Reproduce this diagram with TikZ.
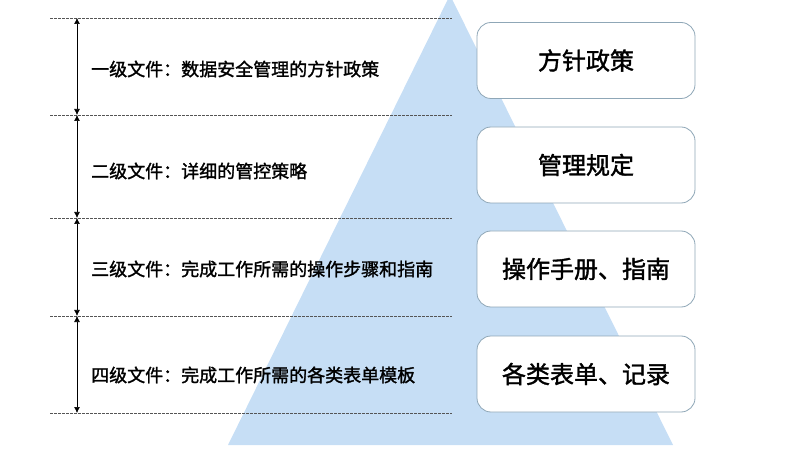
\documentclass[tikz,border=0pt]{standalone}
\usepackage{fontspec}
\newfontfamily\cjk[BoldFont={Noto Sans CJK SC},BoldFeatures={FakeBold=1.5}]{Noto Sans CJK SC}
\usetikzlibrary{arrows.meta}
\definecolor{pyramid}{HTML}{C6DEF5}
\definecolor{boxgray}{HTML}{8FA7B7}
\definecolor{dashgray}{HTML}{555555}
\begin{document}
\begin{tikzpicture}[x=1pt,y=-1pt,font=\cjk,
  level/.style={anchor=west,inner sep=0pt,font=\cjk\bfseries\fontsize{18}{20}\selectfont},
  docbox/.style={draw=boxgray,fill=white,rounded corners=14pt,line width=0.8pt,
    minimum width=218pt,minimum height=76pt,inner sep=0pt,font=\cjk\bfseries\fontsize{24}{28}\selectfont},
  span/.style={{Latex[length=6pt,width=6pt]}-{Latex[length=6pt,width=6pt]},line width=0.7pt}]
  \useasboundingbox (0,0) rectangle (795,470);
  \fill[pyramid] (228,445) -- (450,-5) -- (673,445) -- cycle;
  \foreach [count=\Z from 0] \Y in {18,115,218,316,413}
  {\draw[dashgray,line width=0.5pt,dash pattern=on 2.5pt off 1.5pt] (50,\Y) coordinate (L\Z)
    -- (452,\Y) coordinate (R\Z);
   \coordinate (A\Z) at (77,\Y);}
  \foreach \A/\B in {0/1,1/2,2/3,3/4}
  {\draw[span] (A\A) -- (A\B);}
  \foreach [count=\Z] \Y/\T in {69/{一级文件：数据安全管理的方针政策},171/{二级文件：详细的管控策略},
    269/{三级文件：完成工作所需的操作步骤和指南},375/{四级文件：完成工作所需的各类表单模板}}
  {\node[level] (t\Z) at (91,\Y) {\T};}
  \foreach [count=\Z] \Y/\T in {60.5/{方针政策},165/{管理规定},269/{操作手册、指南},374/{各类表单、记录}}
  {\node[docbox] (b\Z) at (586,\Y) {\T};}
\end{tikzpicture}
\end{document}
